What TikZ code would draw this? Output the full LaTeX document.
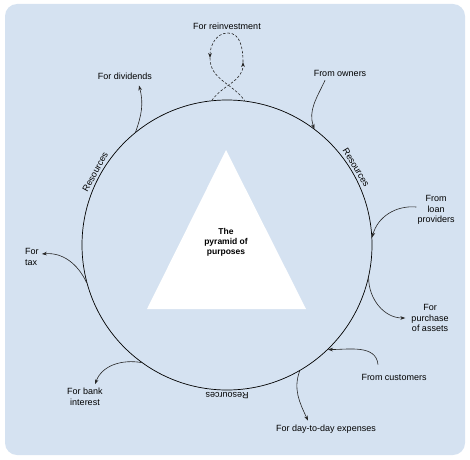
\documentclass[tikz,border=0pt]{standalone}
\usepackage{fontspec}
\setmainfont{Liberation Sans}
\usetikzlibrary{arrows.meta}
\definecolor{panelblue}{RGB}{213,226,241}

\begin{document}
\begin{tikzpicture}[x=1pt, y=1pt, every node/.style={font=\fontsize{9}{10.5}\selectfont, inner sep=1pt},
    flowarrow/.style={draw=black!85, line width=0.6pt, -{Stealth[length=5pt,width=3.6pt]}},
    dashflow/.style={flowarrow, dash pattern=on 2.5pt off 1.8pt},
    resourcetag/.style={anchor=south, inner sep=2pt}]
    \useasboundingbox (0,0) rectangle (470,459);
    \fill[panelblue, rounded corners=12pt] (5,4) rectangle (465,455);
    \fill[white] (147,150) -- (226,309) -- (306,150) -- cycle;
    \node[circle, draw, line width=0.7pt, minimum size=290pt, inner sep=0pt] (ring) at (227,214) {};
    \node[font=\bfseries\fontsize{8.5}{10}\selectfont, align=center] (pyramid) at (226,217) {The\\pyramid of\\purposes};
    % texts round the ring
    \node (reinvest) at (227,433) {For reinvestment};
    \node (dividends) at (125,383) {For dividends};
    \node (owners) at (340,386) {From owners};
    \node[align=center] (loan) at (436,249) {From\\loan\\providers};
    \node[align=center] (purchase) at (430,141) {For\\purchase\\of assets};
    \node[align=left, anchor=west] (tax) at (24,202) {For\\tax};
    \node[align=center] (bank) at (85,62) {For bank\\interest};
    \node (customers) at (394,82) {From customers};
    \node (daytoday) at (326,30) {For day-to-day expenses};
    \foreach \a/\r in {31/-59, 151/61, 270/180}
        \node[resourcetag, rotate=\r] at (ring.\a) {Resources};
    % flows in and out
    \draw[flowarrow] (ring.129) to[out=70, in=-75] ([xshift=14pt, yshift=-5pt]dividends.south);
    \draw[flowarrow] ([xshift=-15pt, yshift=-3pt]owners.south) to[out=-115, in=110] (ring.53);
    \draw[flowarrow] ([yshift=3pt]loan.west) to[out=175, in=75] (ring.3);
    \draw[flowarrow] (ring.-13) to[out=-90, in=180] ([xshift=-5pt]purchase.west);
    \draw[flowarrow] (ring.195) to[out=115, in=5] ([xshift=2pt, yshift=3pt]tax.east);
    \draw[flowarrow] (ring.234) to[out=170, in=70] ([xshift=10pt, yshift=3pt]bank.north);
    \draw[flowarrow] ([xshift=-16pt, yshift=8pt]customers.north) to[out=95, in=0] (ring.-46);
    \draw[flowarrow] (ring.-60) to[out=-110, in=115] ([xshift=-18pt, yshift=3pt]daytoday.north);
    % reinvestment loop
    \coordinate (loopR) at (243,397);
    \coordinate (loopT) at (228,426);
    \coordinate (loopL) at (210,401);
    \draw[dashflow] (ring.96) to[out=55, in=-90] (loopR);
    \draw[dashflow] (loopR) to[out=90, in=0] (loopT) to[out=180, in=90] (loopL);
    \draw[dashflow, -] (loopL) to[out=-90, in=125] (ring.83);
\end{tikzpicture}
\end{document}
